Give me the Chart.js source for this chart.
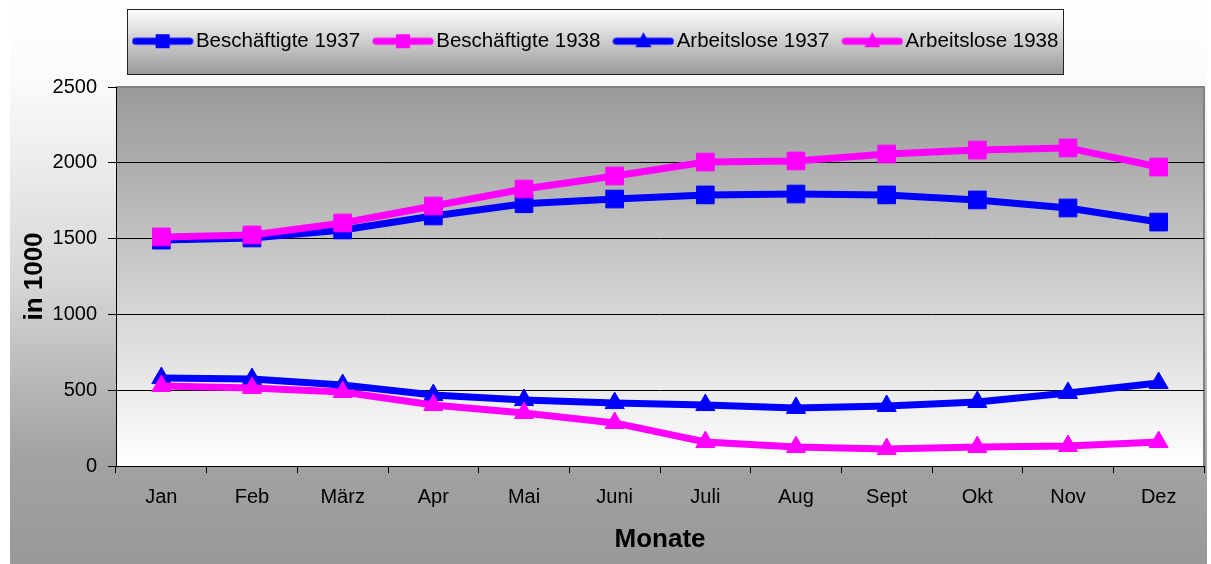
<!DOCTYPE html>
<html>
<head>
<meta charset="utf-8">
<script src="https://cdn.jsdelivr.net/npm/chart.js@4.4.0/dist/chart.umd.min.js"></script>
<style>
  html, body { margin: 0; padding: 0; background: #fff; }
  #chart { display: block; }
</style>
</head>
<body>
<canvas id="chart" width="1211" height="564"></canvas>
<script>
// data (values in 1000)
const months = ["Jan", "Feb", "März", "Apr", "Mai", "Juni", "Juli", "Aug", "Sept", "Okt", "Nov", "Dez"];
const beschaeftigte1937 = [1490, 1504, 1557, 1649, 1730, 1761, 1788, 1794, 1788, 1755, 1702, 1609];
const beschaeftigte1938 = [1511, 1524, 1603, 1715, 1827, 1913, 2005, 2012, 2058, 2084, 2098, 1972];
const arbeitslose1937 = [580, 574, 534, 468, 435, 415, 402, 383, 396, 422, 482, 547];
const arbeitslose1938 = [528, 515, 488, 402, 350, 284, 158, 125, 112, 125, 132, 158];
const seriesLabels = ["Beschäftigte 1937", "Beschäftigte 1938", "Arbeitslose 1937", "Arbeitslose 1938"];
const yMin = 0, yMax = 2500, yStep = 500;

const BLUE = "#0000ff";
const PINK = "#ff00ff";

Chart.defaults.font.family = "'Liberation Sans', Arial, sans-serif";
Chart.defaults.color = "#000";

// little line+marker pictures for the legend, like the excel legend
function makeLegendIcon(color, shape) {
  const c = document.createElement("canvas");
  c.width = 62;
  c.height = 22;
  const g = c.getContext("2d");
  g.strokeStyle = color;
  g.fillStyle = color;
  g.lineWidth = 7;
  g.lineCap = "round";
  g.beginPath();
  g.moveTo(4, 11);
  g.lineTo(58, 11);
  g.stroke();
  g.beginPath();
  if (shape === "rect") {
    g.rect(24, 4, 14, 14);
  } else {
    g.moveTo(31, 2);
    g.lineTo(39, 17);
    g.lineTo(23, 17);
    g.closePath();
  }
  g.fill();
  return c;
}

const legendIcons = [
  makeLegendIcon(BLUE, "rect"),
  makeLegendIcon(PINK, "rect"),
  makeLegendIcon(BLUE, "triangle"),
  makeLegendIcon(PINK, "triangle"),
];

// gradients behind everything + the legend frame
const backdrop = {
  id: "backdrop",
  beforeDraw(chart) {
    const { ctx, chartArea: a, width, height } = chart;
    ctx.save();
    ctx.fillStyle = "#fff";
    ctx.fillRect(0, 0, width, height);

    const outer = ctx.createLinearGradient(0, 0, 0, height);
    outer.addColorStop(0, "#ffffff");
    outer.addColorStop(0.15, "#fafafa");
    outer.addColorStop(0.5, "#d6d6d6");
    outer.addColorStop(0.8, "#a3a3a3");
    outer.addColorStop(1, "#999999");
    ctx.fillStyle = outer;
    ctx.fillRect(10, 0, a.right + 3 - 10, height);

    const inner = ctx.createLinearGradient(0, a.top, 0, a.bottom);
    inner.addColorStop(0, "#999999");
    inner.addColorStop(1, "#ffffff");
    ctx.fillStyle = inner;
    ctx.fillRect(a.left, a.top, a.width, a.height);

    ctx.strokeStyle = "#808080";
    ctx.lineWidth = 2;
    ctx.beginPath();
    ctx.moveTo(a.left, a.top);
    ctx.lineTo(a.right, a.top);
    ctx.lineTo(a.right, a.bottom);
    ctx.stroke();

    const boxes = chart.legend && chart.legend.legendHitBoxes;
    if (boxes && boxes.length) {
      const first = boxes[0];
      const last = boxes[boxes.length - 1];
      const l = Math.round(first.left - 13) + 0.5;
      const r = Math.round(last.left + last.width + 5) + 0.5;
      const t = Math.round(first.top - 22) + 0.5;
      const b = Math.round(first.top + first.height + 22) + 0.5;
      const lg = ctx.createLinearGradient(0, t, 0, b);
      lg.addColorStop(0, "#ffffff");
      lg.addColorStop(1, "#999999");
      ctx.fillStyle = lg;
      ctx.fillRect(l, t, r - l, b - t);
      ctx.strokeStyle = "#222";
      ctx.lineWidth = 1;
      ctx.strokeRect(l, t, r - l, b - t);
    }
    ctx.restore();
  },
};

function series(label, data, color, shape, radius, order) {
  return {
    label,
    data,
    borderColor: color,
    backgroundColor: color,
    borderWidth: 7,
    tension: 0,
    pointStyle: shape,
    pointRadius: radius,
    pointBorderWidth: 1,
    pointBorderColor: color,
    pointBackgroundColor: color,
    order,
  };
}

new Chart(document.getElementById("chart"), {
  type: "line",
  data: {
    labels: months,
    datasets: [
      series(seriesLabels[0], beschaeftigte1937, BLUE, "rect", 12.5, 4),
      series(seriesLabels[1], beschaeftigte1938, PINK, "rect", 12.5, 3),
      series(seriesLabels[2], arbeitslose1937, BLUE, "triangle", 11, 2),
      series(seriesLabels[3], arbeitslose1938, PINK, "triangle", 11, 1),
    ],
  },
  options: {
    responsive: false,
    animation: false,
    devicePixelRatio: 1,
    layout: {
      autoPadding: false,
      padding: { top: 11, left: -6, right: 7, bottom: 0 },
    },
    plugins: {
      tooltip: { enabled: false },
      // empty title only keeps the gap between legend and plot
      title: {
        display: true,
        text: "",
        weight: 500,
        padding: 0,
        font: { size: 25.5, lineHeight: 1 },
      },
      legend: {
        position: "top",
        labels: {
          usePointStyle: true,
          pointStyleWidth: 46,
          padding: 20,
          color: "#000",
          font: { size: 20.5 },
          sort: (a, b) => a.datasetIndex - b.datasetIndex,
          generateLabels: (chart) =>
            Chart.defaults.plugins.legend.labels.generateLabels(chart).map((item) => ({
              ...item,
              pointStyle: legendIcons[item.datasetIndex],
              rotation: 0,
            })),
        },
      },
    },
    scales: {
      x: {
        offset: true,
        grid: {
          offset: true,
          drawOnChartArea: false,
          tickLength: 7,
          color: "#000",
        },
        border: { color: "#000", width: 1 },
        ticks: { padding: 12, font: { size: 20 }, color: "#000" },
        title: {
          display: true,
          text: "Monate",
          font: { size: 26, weight: "bold" },
          padding: { top: 8.4, bottom: 8.4 },
          color: "#000",
        },
        afterFit: (scale) => { scale.height = 98; },
      },
      y: {
        min: yMin,
        max: yMax,
        ticks: {
          stepSize: yStep,
          padding: 11,
          font: { size: 20 },
          color: "#000",
          callback: (value) => String(value),
        },
        grid: {
          color: (ctx) => (ctx.tick && ctx.tick.value === yMax ? "#808080" : "#000"),
          tickColor: "#000",
          tickLength: 8,
        },
        border: { color: "#000", width: 1 },
        title: {
          display: true,
          text: "in 1000",
          font: { size: 26, weight: "bold" },
          padding: { top: 25.4, bottom: 25.4 },
          color: "#000",
        },
        afterFit: (scale) => { scale.width = 122; },
      },
    },
  },
  plugins: [backdrop],
});
</script>
</body>
</html>
